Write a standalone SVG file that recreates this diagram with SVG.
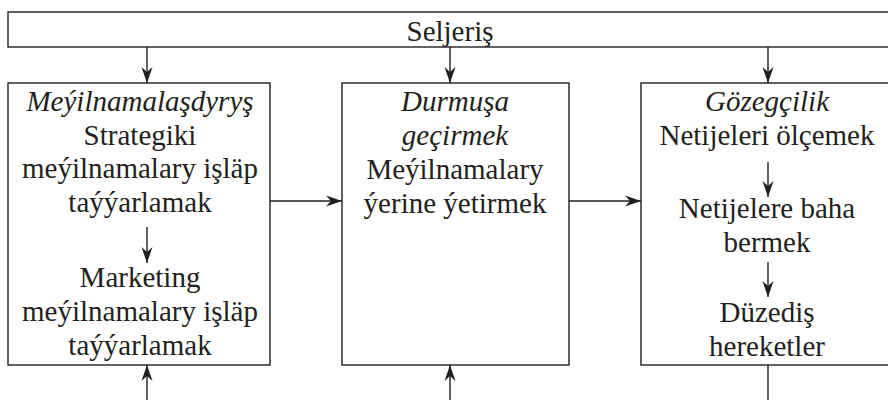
<svg xmlns="http://www.w3.org/2000/svg" width="888" height="400" viewBox="0 0 888 400">
<style>
.box{fill:#fff;stroke:#231f20;stroke-width:1.4}
.ln{fill:none;stroke:#231f20;stroke-width:1.4}
text{font-family:"Liberation Serif","Times New Roman",serif;font-size:29px;fill:#231f20;text-anchor:middle}
.it{font-style:italic}
</style>
<defs>
<marker id="ah" viewBox="-16 -6 16 12" markerWidth="16" markerHeight="12" refX="0" refY="0" orient="auto" markerUnits="userSpaceOnUse">
<path d="M0,0 L-16,-5.5 L-11,0 L-16,5.5 Z" fill="#231f20"/>
</marker>
</defs>
<rect width="888" height="400" fill="#fff"/>
<g id="seljeris">
<rect class="box" x="8" y="12" width="900" height="35"/>
<text x="450" y="41">Seljeriş</text>
</g>
<g id="meyilnamalasdyrys">
<rect class="box" x="8" y="83" width="262" height="282"/>
<text class="it" x="140" y="111">Meýilnamalaşdyryş</text>
<text x="140" y="145">Strategiki</text>
<text x="140" y="178">meýilnamalary işläp</text>
<text x="140" y="212">taýýarlamak</text>
<text x="140" y="287">Marketing</text>
<text x="140" y="321">meýilnamalary işläp</text>
<text x="140" y="355">taýýarlamak</text>
</g>
<g id="durmusa">
<rect class="box" x="342" y="83" width="227" height="282"/>
<text class="it" x="455" y="111">Durmuşa</text>
<text class="it" x="455" y="145">geçirmek</text>
<text x="455" y="179">Meýilnamalary</text>
<text x="455" y="213">ýerine ýetirmek</text>
</g>
<g id="gozegcilik">
<rect class="box" x="641" y="83" width="270" height="282"/>
<text class="it" x="767" y="111">Gözegçilik</text>
<text x="767" y="145">Netijeleri ölçemek</text>
<text x="767" y="218">Netijelere baha</text>
<text x="767" y="252">bermek</text>
<text x="767" y="322">Düzediş</text>
<text x="767" y="356">hereketler</text>
</g>
<g id="connectors">
<line class="ln" x1="147" y1="47" x2="147" y2="83" marker-end="url(#ah)"/>
<line class="ln" x1="450" y1="47" x2="450" y2="83" marker-end="url(#ah)"/>
<line class="ln" x1="768" y1="47" x2="768" y2="83" marker-end="url(#ah)"/>
<line class="ln" x1="270" y1="201" x2="342" y2="201" marker-end="url(#ah)"/>
<line class="ln" x1="569" y1="201" x2="641" y2="201" marker-end="url(#ah)"/>
<line class="ln" x1="147" y1="227" x2="147" y2="263" marker-end="url(#ah)"/>
<line class="ln" x1="768" y1="162" x2="768" y2="197" marker-end="url(#ah)"/>
<line class="ln" x1="768" y1="262" x2="768" y2="297" marker-end="url(#ah)"/>
<line class="ln" x1="147" y1="400" x2="147" y2="365" marker-end="url(#ah)"/>
<line class="ln" x1="450" y1="400" x2="450" y2="365" marker-end="url(#ah)"/>
<line class="ln" x1="768" y1="365" x2="768" y2="400"/>
</g>
</svg>
